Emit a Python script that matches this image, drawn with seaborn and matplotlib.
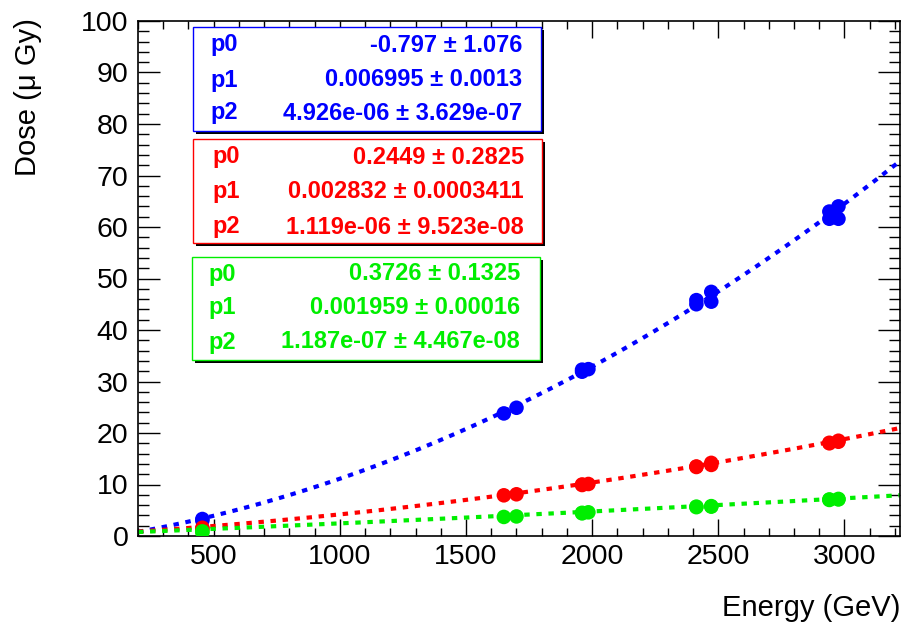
import numpy as np
import pandas as pd
import matplotlib
matplotlib.use("Agg")
import matplotlib.pyplot as plt
from matplotlib.patches import Rectangle
from matplotlib.ticker import MultipleLocator
import seaborn as sns

# measured points (energy in GeV, dose in micro Gy)
energy = [455, 455, 1650, 1700, 1960, 1960, 1985, 2413, 2413, 2472, 2472, 2940, 2940, 2976, 2976]
dose_blue = [3.3, 3.0, 23.8, 24.9, 31.9, 32.3, 32.4, 45.0, 45.8, 47.4, 45.5, 63.0, 61.6, 64.0, 61.6]
dose_red = [1.6, 1.4, 7.9, 8.1, 9.9, 10.0, 10.1, 13.4, 13.5, 13.8, 14.2, 18.0, 18.1, 18.3, 18.5]
dose_green = [0.9, 0.7, 3.7, 3.8, 4.4, 4.5, 4.6, 5.6, 5.7, 5.7, 5.8, 7.0, 7.1, 7.1, 7.2]

# pol2 fit parameters shown in the stat boxes
fit_blue = [-0.797, 0.006995, 4.926e-06]
fit_red = [0.2449, 0.002832, 1.119e-06]
fit_green = [0.3726, 0.001959, 1.187e-07]
err_labels = {
    "blue": ["-0.797 \u00b1 1.076", "0.006995 \u00b1 0.0013", "4.926e-06 \u00b1 3.629e-07"],
    "red": ["0.2449 \u00b1 0.2825", "0.002832 \u00b1 0.0003411", "1.119e-06 \u00b1 9.523e-08"],
    "green": ["0.3726 \u00b1 0.1325", "0.001959 \u00b1 0.00016", "1.187e-07 \u00b1 4.467e-08"],
}

x_min, x_max = 200, 3220
colors = {"blue": "#0000ff", "red": "#ff0000", "green": "#00ee00"}

sns.set_style("ticks")
plt.rcParams["font.family"] = ["Liberation Sans", "DejaVu Sans"]
plt.rcParams["text.color"] = "black"

pts = pd.concat([
    pd.DataFrame({"energy": energy, "dose": dose_blue, "set": "blue"}),
    pd.DataFrame({"energy": energy, "dose": dose_red, "set": "red"}),
    pd.DataFrame({"energy": energy, "dose": dose_green, "set": "green"}),
])

xs = np.linspace(x_min, x_max, 200)
curves = []
for name, p in [("blue", fit_blue), ("red", fit_red), ("green", fit_green)]:
    curves.append(pd.DataFrame({"energy": xs, "dose": p[0] + p[1] * xs + p[2] * xs ** 2, "set": name}))
curves = pd.concat(curves)

fig = plt.figure(figsize=(9.04, 6.28), dpi=100)
ax = fig.add_axes([138 / 904, 92 / 628, 762 / 904, 515 / 628])

sns.scatterplot(data=pts, x="energy", y="dose", hue="set", palette=colors,
                s=110, linewidth=0, legend=False, ax=ax, zorder=3)
sns.lineplot(data=curves, x="energy", y="dose", hue="set", palette=colors,
             linewidth=3, linestyle=(0, (1.3, 1.6)), legend=False, ax=ax, zorder=2)

ax.set_xlim(x_min, x_max)
ax.set_ylim(0, 100)
ax.xaxis.set_major_locator(MultipleLocator(500))
ax.xaxis.set_minor_locator(MultipleLocator(100))
ax.yaxis.set_major_locator(MultipleLocator(10))
ax.yaxis.set_minor_locator(MultipleLocator(2))
ax.tick_params(axis="both", which="both", direction="in", top=True, right=True,
               labelsize=20.5, color="black", labelcolor="black", width=1)
ax.tick_params(axis="y", which="major", length=16, pad=7)
ax.tick_params(axis="y", which="minor", length=8)
ax.tick_params(axis="x", which="major", length=12, pad=6)
ax.tick_params(axis="x", which="minor", length=6)
for s in ax.spines.values():
    s.set_color("black")
    s.set_linewidth(1.2)

ax.set_xlabel("")
ax.set_ylabel("")
fig.text(900 / 904, 1 - 608 / 628, "Energy (GeV)", ha="right", va="center", fontsize=21, color="black")
fig.text(28 / 904, 1 - 18 / 628, "Dose (\u03bc Gy)", ha="center", va="top", rotation=90,
         fontsize=21, color="black")

def px(x, y):
    return x / 904, 1 - y / 628

boxes = [
    ("blue", (193, 27, 541, 131), [45, 80, 113], 210, 522),
    ("red", (193, 139, 542, 243), [157, 192, 227], 212, 524),
    ("green", (192, 257, 540, 360), [274, 307, 342], 208, 520),
]
for name, (l, t, r, b), rows, xl, xr in boxes:
    x0, y0 = px(l + 3, b + 3)
    fig.add_artist(Rectangle((x0, y0), (r - l) / 904, (b - t) / 628,
                             transform=fig.transFigure, facecolor="black", edgecolor="none", zorder=4))
    x0, y0 = px(l, b)
    fig.add_artist(Rectangle((x0, y0), (r - l) / 904, (b - t) / 628,
                             transform=fig.transFigure, facecolor="white",
                             edgecolor=colors[name], linewidth=1, zorder=5))
    for i, yy in enumerate(rows):
        fig.text(*px(xl, yy), f"p{i}", ha="left", va="center", fontsize=17,
                 fontweight="bold", color=colors[name], zorder=6)
        fig.text(*px(xr, yy), err_labels[name][i], ha="right", va="center", fontsize=17,
                 fontweight="bold", color=colors[name], zorder=6)

fig.savefig("out.png", dpi=100)
